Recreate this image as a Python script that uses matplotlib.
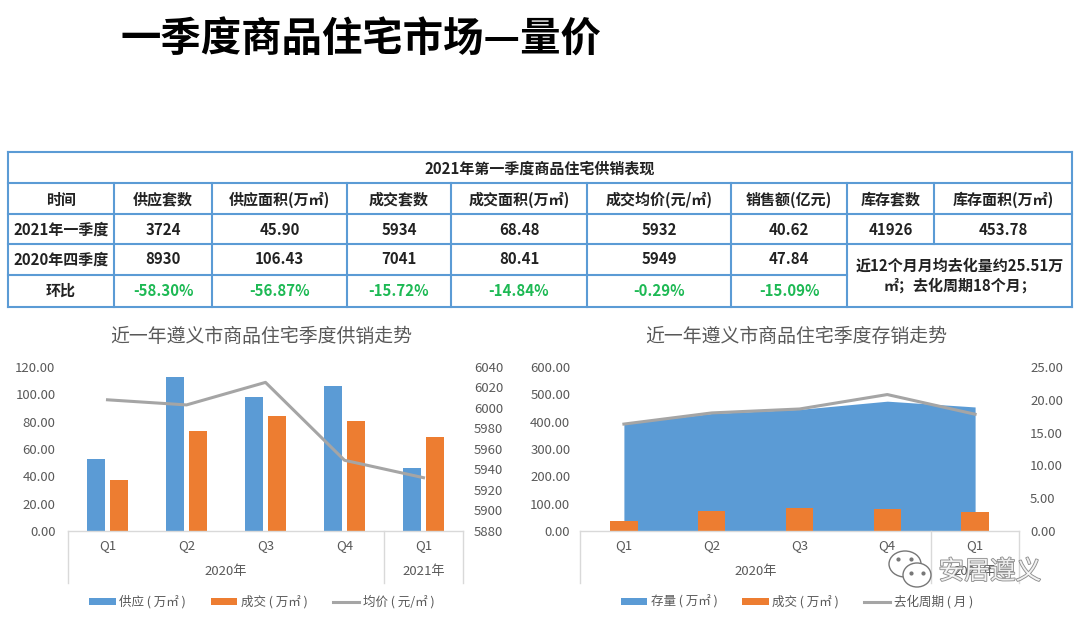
import matplotlib
matplotlib.use("Agg")
import matplotlib.pyplot as plt
import matplotlib.patheffects as pe
from matplotlib.patches import Ellipse

plt.rcParams['font.family'] = ['Noto Sans CJK SC', 'DejaVu Sans']

# chart data
quarters = ['Q1', 'Q2', 'Q3', 'Q4', 'Q1']
supply = [52.5, 113, 98, 106.43, 45.9]
deal = [37, 73, 84, 80.41, 68.48]
price = [6008, 6003, 6025, 5949, 5932]
stock = [392, 430, 445, 475, 453.78]
cycle = [16.3, 18.0, 18.6, 20.8, 17.8]

# table text
table_title = '2021年第一季度商品住宅供销表现'
headers = ['时间', '供应套数', '供应面积(万㎡)', '成交套数', '成交面积(万㎡)', '成交均价(元/㎡)', '销售额(亿元)', '库存套数', '库存面积(万㎡)']
row_2021 = ['2021年一季度', '3724', '45.90', '5934', '68.48', '5932', '40.62', '41926', '453.78']
row_2020 = ['2020年四季度', '8930', '106.43', '7041', '80.41', '5949', '47.84']
row_qoq = ['环比', '-58.30%', '-56.87%', '-15.72%', '-14.84%', '-0.29%', '-15.09%']
table_note = '近12个月月均去化量约25.51万\n㎡；去化周期18个月；'

W, H = 1080, 620
BLUE = '#5B9BD5'
ORANGE = '#ED7D31'
GRAY = '#A5A5A5'
TXT = '#595959'
AXLINE = '#D9D9D9'

fig = plt.figure(figsize=(W / 100, H / 100), dpi=100)

# overlay in pixel coordinates for heading and table
bg = fig.add_axes([0, 0, 1, 1])
bg.set_xlim(0, W)
bg.set_ylim(H, 0)
bg.axis('off')

bg.text(120, 40, '一季度商品住宅市场—量价', fontsize=29.1, fontweight='bold', color='black', va='center', ha='left')

xs = [8, 114, 212, 347, 451, 587, 731, 847, 934, 1072]
ys = [152, 183, 214, 244, 275, 307]
LINE = dict(color=BLUE, lw=1.5, solid_capstyle='projecting')

bg.plot([xs[0], xs[-1]], [ys[0], ys[0]], **LINE)
bg.plot([xs[0], xs[-1]], [ys[1], ys[1]], **LINE)
bg.plot([xs[0], xs[-1]], [ys[2], ys[2]], **LINE)
bg.plot([xs[0], xs[-1]], [ys[3], ys[3]], **LINE)
bg.plot([xs[0], xs[7]], [ys[4], ys[4]], **LINE)
bg.plot([xs[0], xs[-1]], [ys[5], ys[5]], **LINE)
for i, x in enumerate(xs):
    if i in (0, 9):
        bottom, top = ys[5], ys[0]
    elif i == 8:
        bottom, top = ys[3], ys[1]
    else:
        bottom, top = ys[5], ys[1]
    bg.plot([x, x], [top, bottom], **LINE)

cell = dict(ha='center', va='center', fontweight='bold', fontsize=10.8, color='#222222')
bg.text((xs[0] + xs[-1]) / 2, (ys[0] + ys[1]) / 2 + 1, table_title, **cell)
for i, s in enumerate(headers):
    bg.text((xs[i] + xs[i + 1]) / 2, (ys[1] + ys[2]) / 2 + 1, s, **cell)
for i, s in enumerate(row_2021):
    bg.text((xs[i] + xs[i + 1]) / 2, (ys[2] + ys[3]) / 2 + 1, s, **cell)
for i, s in enumerate(row_2020):
    bg.text((xs[i] + xs[i + 1]) / 2, (ys[3] + ys[4]) / 2, s, **cell)
for i, s in enumerate(row_qoq):
    green = dict(cell)
    if i > 0:
        green.update(color='#1DB954')
    bg.text((xs[i] + xs[i + 1]) / 2, (ys[4] + ys[5]) / 2, s, **green)
bg.text((xs[7] + xs[9]) / 2, (ys[3] + ys[5]) / 2, table_note, linespacing=1.3, **cell)


def px_axes(x0, x1, y_top, y_bot):
    return fig.add_axes([x0 / W, 1 - y_bot / H, (x1 - x0) / W, (y_bot - y_top) / H])


def style_axes(ax, ax2, pad_left, pad_right):
    ax.set_xlim(-0.5, 4.5)
    ax.set_xticks([])
    for a in (ax, ax2):
        for s in a.spines.values():
            s.set_visible(False)
        a.patch.set_alpha(0)
    ax.tick_params(axis='y', length=0, labelsize=9.5, labelcolor=TXT, pad=pad_left)
    ax2.tick_params(axis='y', length=0, labelsize=9.5, labelcolor=TXT, pad=pad_right)
    # two level category axis
    tr = ax.get_xaxis_transform()
    drop = -0.317
    ax.plot([-0.5, 4.5], [0, 0], transform=tr, color=AXLINE, lw=1, clip_on=False)
    for x in (-0.5, 3.5, 4.5):
        ax.plot([x, x], [0, drop], transform=tr, color=AXLINE, lw=1, clip_on=False)
    for i, q in enumerate(quarters):
        ax.text(i, -0.09, q, transform=tr, ha='center', va='center', fontsize=9.5, color=TXT)
    ax.text(1.5, -0.25, '2020年', transform=tr, ha='center', va='center', fontsize=9.5, color=TXT)
    ax.text(4, -0.25, '2021年', transform=tr, ha='center', va='center', fontsize=9.5, color=TXT)


LEG = dict(loc='center', ncol=3, frameon=False, fontsize=9, labelcolor=TXT, handlelength=2.1,
           handleheight=0.55, handletextpad=0.3, columnspacing=2.0)

# left chart
ax1 = px_axes(68, 463, 367, 531)
ax1b = ax1.twinx()
pos = range(len(quarters))
b1 = ax1.bar([p - 0.144 for p in pos], supply, width=0.23, color=BLUE, label='供应 ( 万㎡ )')
b2 = ax1.bar([p + 0.144 for p in pos], deal, width=0.23, color=ORANGE, label='成交 ( 万㎡ )')
ax1.set_ylim(0, 120)
ax1.set_yticks(range(0, 121, 20))
ax1.set_yticklabels(['%.2f' % v for v in range(0, 121, 20)])
l1, = ax1b.plot(pos, price, color=GRAY, lw=2.2, label='均价 ( 元/㎡ )')
ax1b.set_ylim(5880, 6040)
ax1b.set_yticks(range(5880, 6041, 20))
style_axes(ax1, ax1b, 9, 8)
bg.text(261, 336, '近一年遵义市商品住宅季度供销走势', fontsize=13.6, color=TXT, ha='center', va='center')
fig.legend(handles=[b1, b2, l1], bbox_to_anchor=(262 / W, 1 - 602 / H), **LEG)

# right chart
ax2 = px_axes(580, 1019, 367, 531)
ax2b = ax2.twinx()
a1 = ax2.fill_between(pos, stock, 0, color=BLUE, lw=0, label='存量 ( 万㎡ )')
b3 = ax2.bar(pos, deal, width=0.31, color=ORANGE, label='成交 ( 万㎡ )')
ax2.set_ylim(0, 600)
ax2.set_yticks(range(0, 601, 100))
ax2.set_yticklabels(['%.2f' % v for v in range(0, 601, 100)])
l2, = ax2b.plot(pos, cycle, color=GRAY, lw=2.2, label='去化周期 ( 月 )')
ax2b.set_ylim(0, 25)
ax2b.set_yticks(range(0, 26, 5))
ax2b.set_yticklabels(['%.2f' % v for v in range(0, 26, 5)])
style_axes(ax2, ax2b, 7, 8)
bg.text(796, 336, '近一年遵义市商品住宅季度存销走势', fontsize=13.6, color=TXT, ha='center', va='center')
fig.legend(handles=[a1, b3, l2], bbox_to_anchor=(797 / W, 1 - 602 / H), **LEG)

# watermark on top
wm = fig.add_axes([0, 0, 1, 1], zorder=10)
wm.set_xlim(0, W)
wm.set_ylim(H, 0)
wm.axis('off')
wm.add_patch(Ellipse((905, 564), 32, 26, fc='white', ec='#777777', lw=1))
wm.add_patch(Ellipse((917, 575), 28, 24, fc='white', ec='#777777', lw=1))
wm.plot([898, 911, 911, 923], [559, 559, 573, 573], ls='none', marker='o', ms=2, color='#777777')
wm.text(990, 572, '安居遵义', fontsize=18.5, color='white', ha='center', va='center', alpha=0.85,
        path_effects=[pe.withStroke(linewidth=1.2, foreground='#777777')])

fig.savefig('out.png', dpi=100)
